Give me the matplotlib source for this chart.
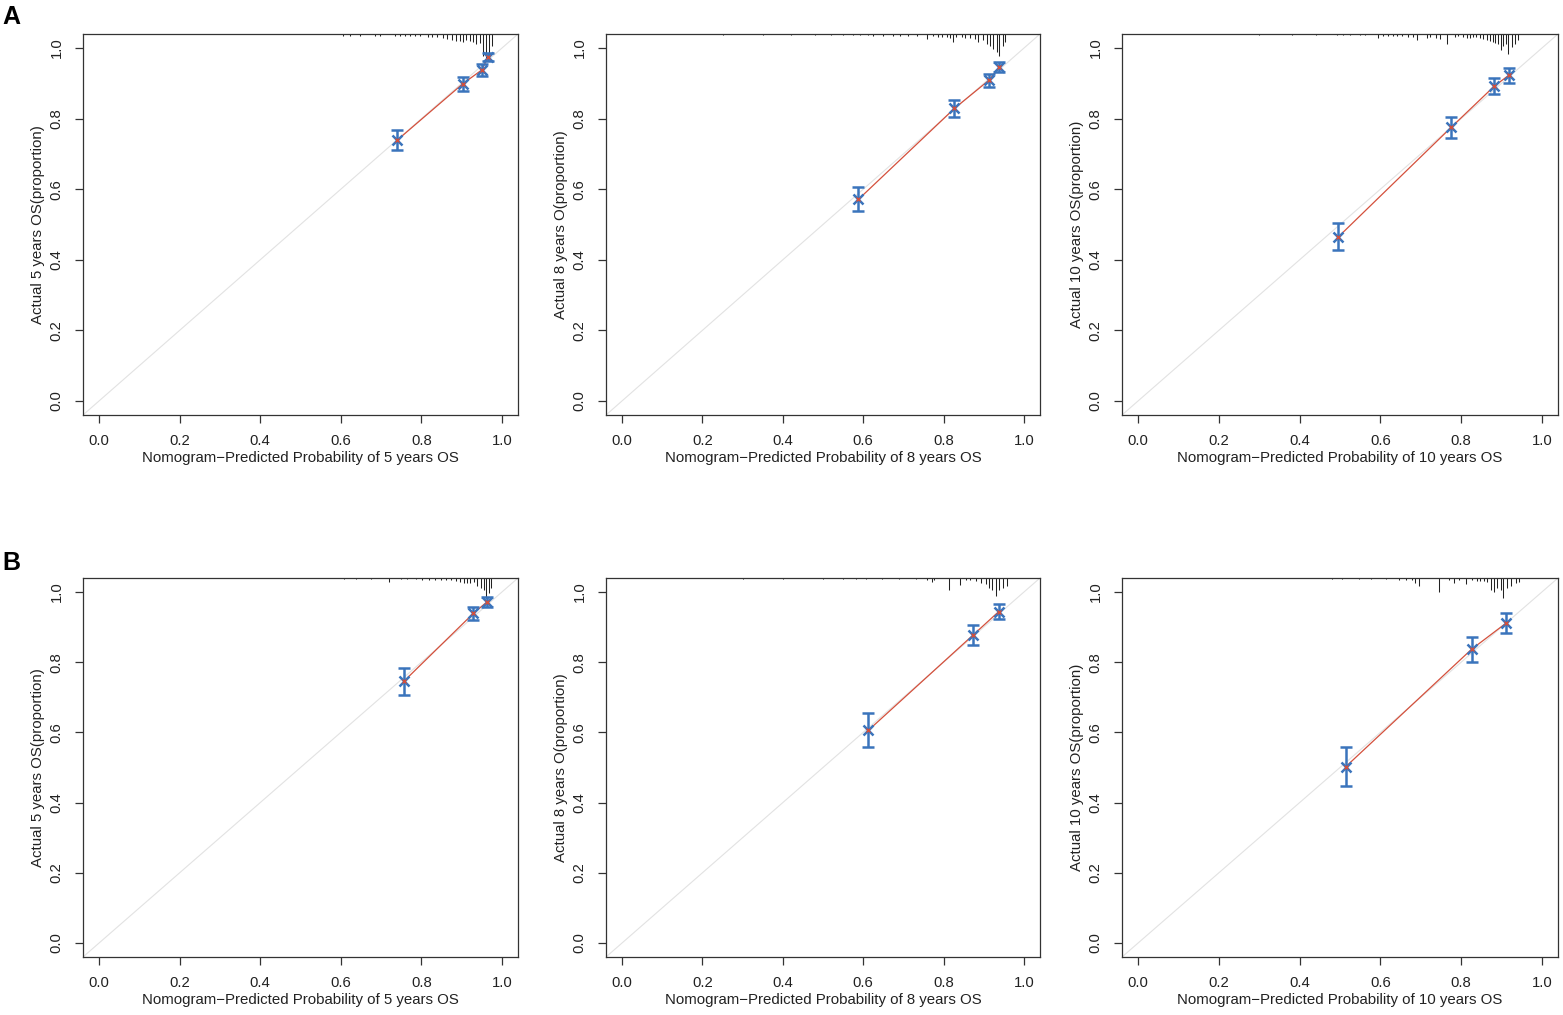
import numpy as np
import matplotlib.pyplot as plt

plt.rcParams['font.family'] = ['Liberation Sans', 'DejaVu Sans']

# Kalibreringspunkter (predikert, observert, halv feilstolpe)
a5_pred = [0.740, 0.903, 0.950, 0.966]
a5_obs = [0.739, 0.899, 0.938, 0.975]
a5_err = [0.028, 0.020, 0.016, 0.012]

a8_pred = [0.588, 0.827, 0.913, 0.939]
a8_obs = [0.571, 0.829, 0.909, 0.947]
a8_err = [0.034, 0.025, 0.019, 0.015]

a10_pred = [0.496, 0.775, 0.882, 0.918]
a10_obs = [0.465, 0.775, 0.892, 0.923]
a10_err = [0.038, 0.031, 0.023, 0.021]

b5_pred = [0.757, 0.929, 0.962]
b5_obs = [0.746, 0.939, 0.971]
b5_err = [0.038, 0.019, 0.015]

b8_pred = [0.613, 0.873, 0.937]
b8_obs = [0.606, 0.877, 0.944]
b8_err = [0.048, 0.028, 0.022]

b10_pred = [0.514, 0.826, 0.912]
b10_obs = [0.502, 0.837, 0.912]
b10_err = [0.056, 0.035, 0.028]

# Fordeling av predikerte verdier (rug paa toppen), x og antall
a5_rug_x = [0.605, 0.623, 0.648, 0.685, 0.697, 0.734, 0.747, 0.759, 0.772, 0.784, 0.797,
            0.816, 0.826, 0.839, 0.854, 0.864, 0.876, 0.886, 0.896, 0.903, 0.911, 0.921,
            0.928, 0.935, 0.945, 0.953, 0.960, 0.968, 0.975]
a5_rug_n = [2, 2, 2, 2, 2, 2, 2, 2, 2, 2, 2, 3, 3, 3, 4, 5, 6, 7, 7, 8, 6, 7, 8, 10, 9,
            22, 25, 24, 12]

a8_rug_x = [0.25, 0.35, 0.42, 0.48, 0.52, 0.55,
            0.575, 0.592, 0.612, 0.625, 0.650, 0.675, 0.691, 0.712, 0.733, 0.758, 0.774,
            0.787, 0.795, 0.808, 0.816, 0.824, 0.832, 0.845, 0.854, 0.866, 0.878, 0.886,
            0.899, 0.907, 0.915, 0.924, 0.932, 0.938, 0.947, 0.953]
a8_rug_n = [1, 1, 1, 1, 1, 1,
            1, 1, 1, 2, 2, 2, 2, 2, 2, 5, 2, 3, 3, 3, 4, 8, 3, 3, 4, 4, 5, 8, 6, 10,
            12, 15, 18, 22, 12, 8]

a10_rug_x = [0.30, 0.38, 0.44,
             0.492, 0.508, 0.525, 0.550, 0.562, 0.595, 0.607, 0.620, 0.632, 0.640, 0.653,
             0.669, 0.682, 0.690, 0.715, 0.723, 0.739, 0.748, 0.764, 0.785, 0.793, 0.805,
             0.814, 0.822, 0.830, 0.838, 0.847, 0.855, 0.863, 0.871, 0.878, 0.884, 0.892,
             0.898, 0.904, 0.911, 0.917, 0.925, 0.933, 0.941]
a10_rug_n = [1, 1, 1,
             1, 1, 1, 1, 1, 4, 2, 2, 2, 2, 2, 3, 3, 6, 4, 3, 4, 5, 10, 3, 2, 3, 4, 4, 3,
             3, 4, 5, 6, 7, 8, 9, 10, 16, 12, 10, 20, 13, 10, 6]

b5_rug_x = [0.608, 0.637, 0.674, 0.720, 0.749, 0.765, 0.786, 0.802, 0.819, 0.835, 0.848,
            0.860, 0.873, 0.885, 0.897, 0.906, 0.914, 0.922, 0.931, 0.939, 0.947, 0.955,
            0.961, 0.968, 0.974]
b5_rug_n = [1, 1, 1, 4, 1, 1, 1, 2, 2, 2, 2, 2, 2, 3, 4, 5, 5, 5, 4, 8, 10, 12, 20, 15, 10]

b8_rug_x = [0.30, 0.40, 0.50, 0.55,
            0.581, 0.606, 0.648, 0.689, 0.731, 0.760, 0.772, 0.776, 0.813, 0.842, 0.855,
            0.867, 0.880, 0.892, 0.905, 0.913, 0.921, 0.930, 0.938, 0.948, 0.958]
b8_rug_n = [1, 1, 1, 1,
            1, 1, 1, 1, 1, 2, 4, 2, 12, 7, 2, 2, 3, 5, 6, 10, 12, 18, 12, 10, 8]

b10_rug_x = [0.481, 0.506, 0.547, 0.576, 0.613, 0.646, 0.663, 0.679, 0.687, 0.696, 0.745,
             0.770, 0.782, 0.795, 0.811, 0.828, 0.840, 0.848, 0.856, 0.865, 0.873, 0.881,
             0.889, 0.898, 0.904, 0.914, 0.923, 0.935, 0.943]
b10_rug_n = [1, 1, 1, 1, 1, 2, 2, 2, 5, 8, 14, 2, 5, 2, 6, 2, 3, 3, 3, 4, 12, 14, 10, 12,
             20, 10, 8, 5, 4]

aar = ["5", "8", "10"]
ylabels = ["Actual 5 years OS(proportion)", "Actual 8 years O(proportion)",
           "Actual 10 years OS(proportion)"]

panels = [
    (a5_pred, a5_obs, a5_err, a5_rug_x, a5_rug_n),
    (a8_pred, a8_obs, a8_err, a8_rug_x, a8_rug_n),
    (a10_pred, a10_obs, a10_err, a10_rug_x, a10_rug_n),
    (b5_pred, b5_obs, b5_err, b5_rug_x, b5_rug_n),
    (b8_pred, b8_obs, b8_err, b8_rug_x, b8_rug_n),
    (b10_pred, b10_obs, b10_err, b10_rug_x, b10_rug_n),
]

W, H = 1563, 1015
fig = plt.figure(figsize=(W / 100, H / 100), dpi=100)

# Plassering av aksene i piksler (venstre, topp, bredde, hoeyde)
lefts = [83, 606, 1122]
tops = [34, 578]
heights = [381, 379]
widths = [435, 434, 436]

ticks = [0.0, 0.2, 0.4, 0.6, 0.8, 1.0]
blaa = "#3A74BC"
roed = "#D4503C"
kant = "#333333"
per_n = 0.0028

for i, (pred, obs, err, rx, rn) in enumerate(panels):
    rad, kol = divmod(i, 3)
    l, t, w, h = lefts[kol], tops[rad], widths[kol], heights[rad]
    ax = fig.add_axes([l / W, 1 - (t + h) / H, w / W, h / H])
    ax.set_xlim(-0.04, 1.04)
    ax.set_ylim(-0.04, 1.04)

    # Ideell linje
    ax.axline((0, 0), (1, 1), color="#e2e2e2", lw=0.8, zorder=1)

    # Rug fra toppen
    rx = np.array(rx)
    rn = np.array(rn)
    ax.vlines(rx, 1.04 - rn * per_n, 1.04, color="#222222", lw=0.75, zorder=2)

    # Kalibreringskurve
    ax.plot(pred, obs, color=roed, lw=0.9, zorder=3)
    ax.errorbar(pred, obs, yerr=err, fmt="none", ecolor=blaa, elinewidth=1.8,
                capsize=4.5, capthick=1.8, zorder=4)
    ax.plot(pred, obs, "x", color=blaa, ms=6.5, mew=1.8, zorder=5)
    ax.plot(pred, obs, "x", color=roed, ms=3.5, mew=1.0, zorder=6)

    ax.set_xticks(ticks)
    ax.set_yticks(ticks)
    ax.set_xticklabels([f"{v:.1f}" for v in ticks])
    ax.set_yticklabels([f"{v:.1f}" for v in ticks], rotation=90, va="center")
    ax.tick_params(direction="out", length=6, width=0.9, colors=kant,
                   labelcolor="#222222", labelsize=10.7, pad=8)
    for s in ax.spines.values():
        s.set_color(kant)
        s.set_linewidth(0.9)

    ax.set_xlabel(f"Nomogram\u2212Predicted Probability of {aar[kol]} years OS",
                  fontsize=10.8, labelpad=2, color="#222222")
    ax.set_ylabel(ylabels[kol], fontsize=10.8, labelpad=3, color="#222222")

fig.text(2 / W, 1 - 17 / H, "A", fontsize=18, fontweight="bold", va="center", ha="left")
fig.text(2 / W, 1 - 563 / H, "B", fontsize=18, fontweight="bold", va="center", ha="left")

fig.savefig("out.png", dpi=100)
